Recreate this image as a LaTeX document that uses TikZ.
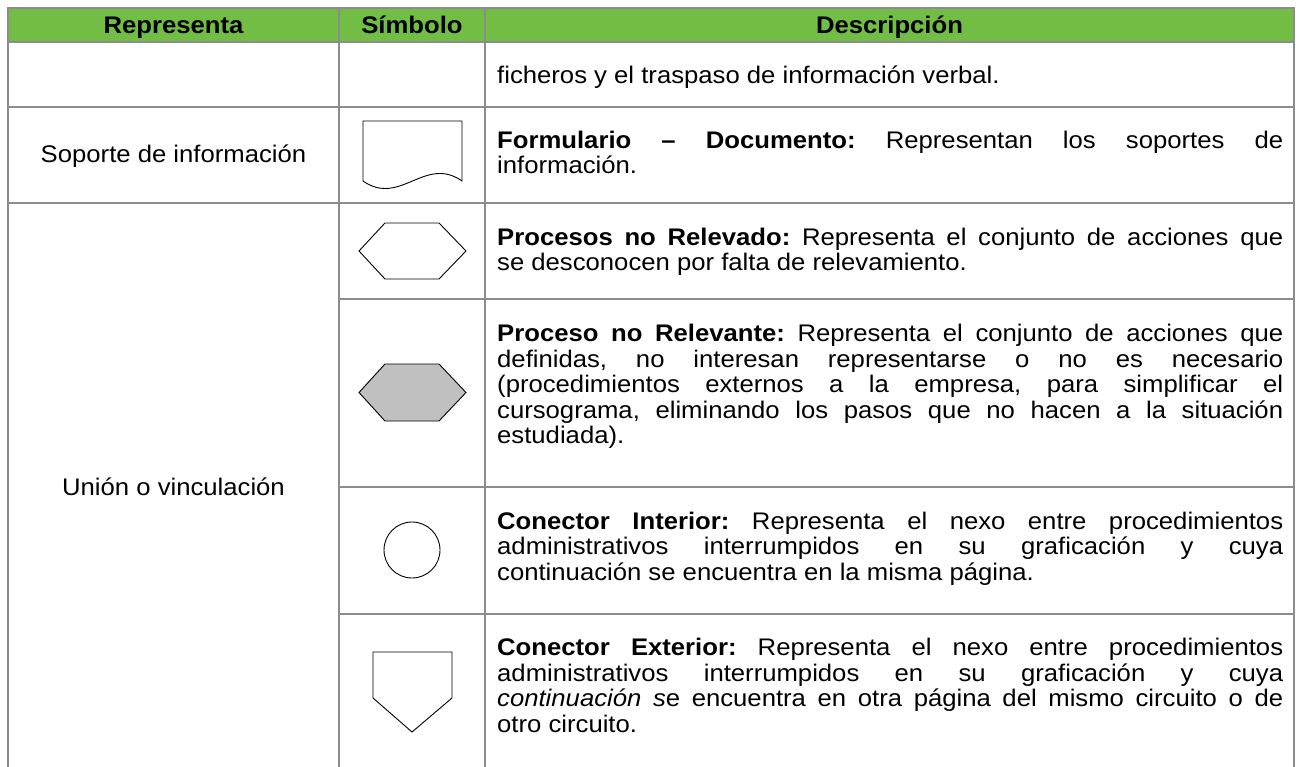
\documentclass[tikz,border=0pt]{standalone}
\usepackage{fontspec}
\setmainfont{Liberation Sans}[FakeStretch=1.07]
\usepackage{tikz}
\usetikzlibrary{positioning}

\definecolor{headgreen}{RGB}{114,190,68}
\definecolor{tablegray}{RGB}{140,140,140}
\definecolor{symgray}{RGB}{192,192,192}
\newcommand{\tablefont}{\fontsize{24}{25.5}\selectfont\frenchspacing}
\hbadness=10000
\tolerance=10000

\begin{document}
\begin{tikzpicture}[
        x=1pt, y=-1pt,
        every node/.style={font=\tablefont},
        grid/.style={draw=tablegray, line width=2.5pt},
        sym/.style={draw=black, line width=0.9pt},
        headtext/.style={font=\tablefont\bfseries, anchor=base, inner sep=0pt},
        reptext/.style={anchor=base, inner sep=0pt},
        desc/.style={anchor=north west, text width=786pt, align=justify, inner sep=0pt}
    ]
    \useasboundingbox (0,0) rectangle (1305,767);

    % Header band
    \fill[headgreen] (8,8) rectangle (1294,42);

    % Table rules
    \draw[grid] (8,767) -- (8,8) -- (1294,8) -- (1294,767);
    \draw[grid] (339,8) -- (339,767);
    \draw[grid] (485,8) -- (485,767);
    \draw[grid] (8,42) -- (1294,42);
    \draw[grid] (8,107) -- (1294,107);
    \draw[grid] (8,203) -- (1294,203);
    \draw[grid] (339,299) -- (1294,299);
    \draw[grid] (339,487) -- (1294,487);
    \draw[grid] (339,614) -- (1294,614);

    % Header
    \node[headtext] (hRepresenta) at (173.5,34) {Representa};
    \node[headtext] (hSimbolo) at (412,34) {Símbolo};
    \node[headtext] (hDescripcion) at (889.5,34) {Descripción};

    % Left column
    \node[reptext] (soporte) at (173.5,163) {Soporte de información};
    \node[reptext] (union) at (173.5,495) {Unión o vinculación};

    % Symbols
    \draw[sym] (363,121) -- (462,121) -- (462,181)
        .. controls (425,155) and (400,207) .. (363,181) -- cycle;
    \draw[sym] (359,251) -- (385,223) -- (439,223) -- (466,251) -- (439,279) -- (385,279) -- cycle;
    \draw[sym, fill=symgray] (359,392.5) -- (385,364) -- (439,364) -- (466,392.5) -- (439,421) -- (385,421) -- cycle;
    \draw[sym] (412,550) circle[radius=28];
    \draw[sym] (373,652) -- (452,652) -- (452,698) -- (412,732) -- (373,698) -- cycle;

    % Descriptions
    \node[desc] (descFicheros) at (497,65.3) {\strut ficheros y el traspaso de información verbal.};
    \node[desc] (descFormulario) at (497,130.3) {\strut\textbf{Formulario – Documento:} Representan los soportes de\linebreak información.};
    \node[desc] (descRelevado) at (497,227) {\strut\textbf{Procesos no Relevado:} Representa el conjunto de acciones que\linebreak se desconocen por falta de relevamiento.};
    \node[desc] (descRelevante) at (497,323.5) {\strut\textbf{Proceso no Relevante:} Representa el conjunto de acciones que\linebreak definidas, no interesan representarse o no es necesario\linebreak (procedimientos externos a la empresa, para simplificar el\linebreak cursograma, eliminando los pasos que no hacen a la situación\linebreak estudiada).};
    \node[desc] (descInterior) at (497,511) {\strut\textbf{Conector Interior:} Representa el nexo entre procedimientos\linebreak administrativos interrumpidos en su graficación y cuya\linebreak continuación se encuentra en la misma página.};
    \node[desc] (descExterior) at (497,637.7) {\strut\textbf{Conector Exterior:} Representa el nexo entre procedimientos\linebreak administrativos interrumpidos en su graficación y cuya\linebreak \textit{continuación s}e encuentra en otra página del mismo circuito o de\linebreak otro circuito.};

\end{tikzpicture}
\end{document}
